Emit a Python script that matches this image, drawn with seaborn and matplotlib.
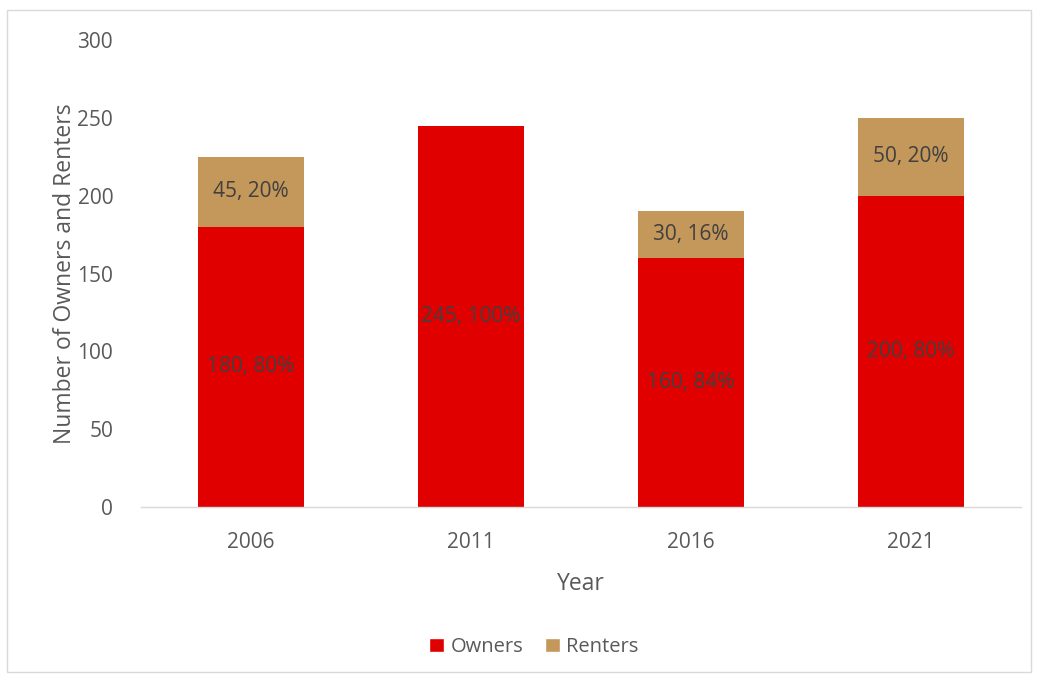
import matplotlib
matplotlib.use("Agg")
import matplotlib.pyplot as plt
import seaborn as sns
import pandas as pd
from matplotlib.patches import Rectangle, Patch

years = ["2006", "2011", "2016", "2021"]
owners = [180, 245, 160, 200]
renters = [45, 0, 30, 50]
owner_pct = ["80%", "100%", "84%", "80%"]
renter_pct = ["20%", "", "16%", "20%"]

sns.set_theme(style="white")
plt.rcParams['font.family'] = ['Open Sans', 'DejaVu Sans']

OWN_C = "#E00000"
RENT_C = "#C4975A"
TXT = "#595959"
LBL = "#404040"

fig = plt.figure(figsize=(10.38, 6.77), dpi=100)
ax = fig.add_axes([0.1358, 0.2511, 0.8478, 0.6898])

df = pd.DataFrame({"Year": years, "Owners": owners, "Renters": renters})

sns.barplot(data=df, x="Year", y="Owners", color=OWN_C, width=0.48,
            saturation=1, ax=ax, edgecolor="none")
sns.barplot(data=df, x="Year", y="Renters", color=RENT_C, width=0.48,
            saturation=1, ax=ax, bottom=df["Owners"], edgecolor="none")

for i, (o, r) in enumerate(zip(owners, renters)):
    ax.text(i, o / 2, f"{o}, {owner_pct[i]}", ha="center", va="center",
            fontsize=15, color=LBL)
    if r > 0:
        ax.text(i, o + r / 2, f"{r}, {renter_pct[i]}", ha="center", va="center",
                fontsize=15, color=LBL)

ax.set_ylim(0, 300)
ax.set_yticks(range(0, 301, 50))
ax.set_xlim(-0.5, 3.5)
ax.tick_params(axis="both", length=0, labelsize=15, labelcolor=TXT)
ax.tick_params(axis="y", pad=20)
ax.tick_params(axis="x", pad=18)
for s in ["top", "right", "left"]:
    ax.spines[s].set_visible(False)
ax.spines["bottom"].set_color("#D9D9D9")
ax.spines["bottom"].set_linewidth(1)
ax.set_xlabel("Year", fontsize=16.5, color=TXT, labelpad=14)
ax.set_ylabel("Number of Owners and Renters", fontsize=16.5, color=TXT, labelpad=0)

handles = [Patch(facecolor=OWN_C, label="Owners"), Patch(facecolor=RENT_C, label="Renters")]
fig.legend(handles=handles, loc="center", bbox_to_anchor=(534 / 1038, 1 - 647 / 677),
           ncol=2, frameon=False, fontsize=14.5, labelcolor=TXT, handlelength=0.75,
           handleheight=0.75, handletextpad=0.3, columnspacing=1.1)

fig.patches.append(Rectangle((7 / 1038, 1 - 672 / 677), 1024 / 1038, 662 / 677,
                             transform=fig.transFigure, fill=False,
                             edgecolor="#D9D9D9", linewidth=1))

fig.savefig("out.png", dpi=100)
